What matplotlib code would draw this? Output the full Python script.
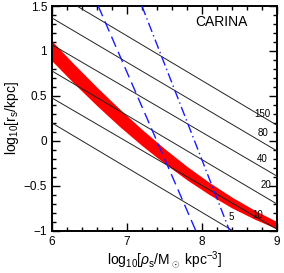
import matplotlib
matplotlib.use("Agg")
import matplotlib.pyplot as plt
from matplotlib.ticker import MultipleLocator

plt.rcParams['font.family'] = ['Liberation Sans', 'DejaVu Sans']
plt.rcParams['mathtext.fontset'] = 'custom'
plt.rcParams['mathtext.rm'] = 'Liberation Sans'
plt.rcParams['mathtext.it'] = 'Liberation Sans:italic'

# Constant-Vmax lines: label, log r_s at log rho = 6 and at log rho = 9
vmax_labels = ["150", "80", "40", "20", "10", "5"]
vmax_left = [1.665, 1.367, 1.07, 0.778, 0.478, 0.20]
vmax_right = [0.175, -0.11, -0.39, -0.70, -0.98, -1.29]
vmax_x = [6.0, 9.0]
label_x = [8.81, 8.81, 8.81, 8.86, 8.75, 8.39]
label_y = [0.30, 0.09, -0.20, -0.49, -0.82, -0.84]

# Red allowed band
band_x = [6.0, 6.3, 6.6, 6.9, 7.2, 7.5, 7.8, 8.1, 8.4, 8.7, 9.0]
band_upper = [1.11, 0.849, 0.597, 0.357, 0.129, -0.084, -0.282, -0.462, -0.624, -0.768, -0.897]
band_lower = [0.89, 0.634, 0.392, 0.162, -0.051, -0.249, -0.432, -0.597, -0.744, -0.868, -0.977]

# Blue lines (x at top y=1.5 and bottom y=-1)
dash_x = [6.617, 7.92]
dash_y = [1.5, -1.0]
dashdot_x = [7.2, 8.37]
dashdot_y = [1.5, -1.0]

fig = plt.figure(figsize=(2.84, 2.73), dpi=100)
ax = fig.add_axes([0.183, 0.154, 0.792, 0.824])

ax.fill_between(band_x, band_lower, band_upper, color='#ff0000', lw=0, zorder=2)

for lab, yl, yr in zip(vmax_labels, vmax_left, vmax_right):
    ax.plot(vmax_x, [yl, yr], color='#222222', lw=0.7, zorder=3)
for lab, tx, ty in zip(vmax_labels, label_x, label_y):
    ax.text(tx, ty, lab, fontsize=7, ha='center', va='center', zorder=5)

ax.plot(dash_x, dash_y, color='#1a1aff', lw=1.0, dashes=(8, 4), zorder=4)
ax.plot(dashdot_x, dashdot_y, color='#1a1aff', lw=1.0, dashes=(7, 2.5, 1, 2.5), zorder=4)

ax.text(0.755, 0.93, "CARINA", transform=ax.transAxes, fontsize=10, ha='center', va='center')

ax.set_xlim(6, 9)
ax.set_ylim(-1, 1.5)
ax.xaxis.set_minor_locator(MultipleLocator(0.2))
ax.yaxis.set_minor_locator(MultipleLocator(0.1))
ax.set_xticks([6, 7, 8, 9])
ax.set_xticklabels(["6", "7", "8", "9"])
ax.set_yticks([-1, -0.5, 0, 0.5, 1, 1.5])
ax.set_yticklabels(["\u22121", "\u22120.5", "0", "0.5", "1", "1.5"])
ax.tick_params(which='both', direction='in', top=True, right=True, labelsize=8.5, width=1.0)
ax.tick_params(which='major', length=6)
ax.tick_params(which='minor', length=3)
for s in ax.spines.values():
    s.set_linewidth(1.4)

ax.set_xlabel(r"log$_{10}$[$\rho_{\rm s}$/M$_\odot$ kpc$^{-3}$]", fontsize=10, labelpad=1)
ax.set_ylabel(r"log$_{10}$[r$_{\rm s}$/kpc]", fontsize=10, labelpad=2)

fig.savefig("out.png", dpi=100)
